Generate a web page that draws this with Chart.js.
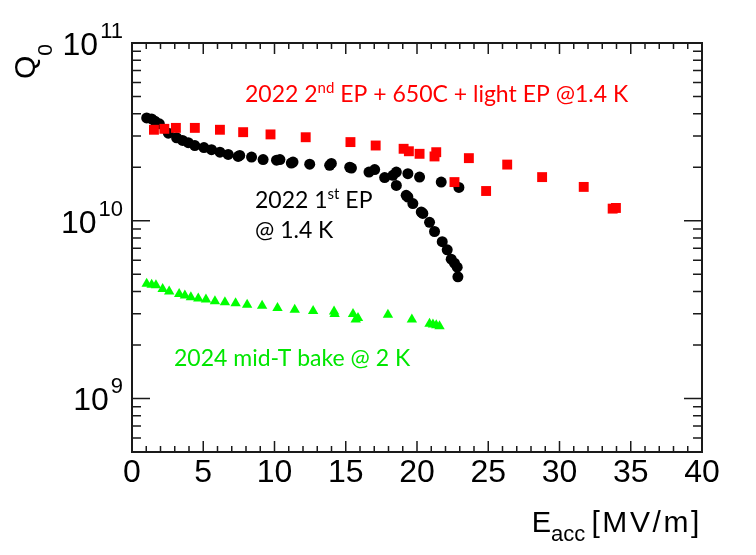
<!DOCTYPE html>
<html>
<head>
<meta charset="utf-8">
<script src="https://cdn.jsdelivr.net/npm/chart.js@4/dist/chart.umd.min.js"></script>
<style>
  html, body { margin: 0; padding: 0; background: #fff; }
</style>
</head>
<body>
<canvas id="chart" width="756" height="555"></canvas>
<script>
// 2022 1st EP @ 1.4 K (black circles)
let ep1X = [1.03, 1.38, 1.61, 1.92, 2.55, 3.13, 3.55, 3.95, 4.41, 5.05, 5.58, 6.17, 6.75, 7.45, 7.56,
  8.39, 9.2, 10.14, 10.38, 11.18, 11.3, 12.47, 13.87, 13.99, 15.28, 15.4, 16.63, 17.03, 17.73, 18.31,
  18.55, 19.36, 20.18, 21.7, 22.94,
  18.55, 19.24, 19.36, 19.71, 20.3, 20.41, 20.88, 21.23, 21.77, 22.12, 22.4, 22.63, 22.82, 22.87];
let ep1Q = [3.79e10, 3.74e10, 3.63e10, 3.51e10, 3.11e10, 2.93e10, 2.83e10, 2.75e10, 2.65e10, 2.58e10,
  2.51e10, 2.43e10, 2.36e10, 2.30e10, 2.33e10, 2.28e10, 2.21e10, 2.19e10, 2.21e10, 2.11e10, 2.14e10,
  2.08e10, 2.05e10, 2.10e10, 2.00e10, 1.98e10, 1.88e10, 1.94e10, 1.75e10, 1.80e10, 1.88e10, 1.84e10,
  1.76e10, 1.65e10, 1.54e10,
  1.58e10, 1.39e10, 1.36e10, 1.25e10, 1.12e10, 1.10e10, 9.8e9, 8.7e9, 7.63e9, 6.86e9, 6.08e9, 5.77e9,
  5.48e9, 4.84e9];

// 2022 2nd EP + 650C + light EP @1.4 K (red squares)
let ep2X = [1.54, 2.27, 3.08, 4.41, 6.17, 7.8, 9.72, 12.19, 15.33, 17.1, 19.06, 19.43, 20.18, 21.23,
  21.35, 22.63, 23.64, 24.85, 26.33, 28.78, 31.7, 33.73, 33.96];
let ep2Q = [3.25e10, 3.29e10, 3.33e10, 3.33e10, 3.25e10, 3.15e10, 3.06e10, 2.95e10, 2.77e10, 2.65e10,
  2.54e10, 2.46e10, 2.38e10, 2.30e10, 2.43e10, 1.65e10, 2.25e10, 1.47e10, 2.07e10, 1.76e10, 1.55e10,
  1.17e10, 1.18e10];

// 2024 mid-T bake @ 2 K (green triangles)
let midTX = [1.03, 1.38, 1.68, 2.15, 2.61, 3.31, 3.71, 4.13, 4.65, 5.19, 5.82, 6.52, 7.27, 8.08, 9.13,
  10.21, 11.42, 12.71, 14.18, 14.22, 15.51, 15.7, 15.86, 17.96, 19.64, 20.88, 21.12, 21.35, 21.58];
let midTQ = [4.42e9, 4.37e9, 4.33e9, 4.13e9, 4.0e9, 3.87e9, 3.80e9, 3.71e9, 3.65e9, 3.6e9, 3.52e9,
  3.48e9, 3.43e9, 3.37e9, 3.33e9, 3.23e9, 3.16e9, 3.11e9, 3.09e9, 2.99e9, 2.99e9, 2.78e9, 2.84e9,
  2.96e9, 2.78e9, 2.63e9, 2.61e9, 2.58e9, 2.55e9];

let xTicks = [0, 5, 10, 15, 20, 25, 30, 35, 40];
let yDecades = [9, 10, 11];

const axisFont = '"Liberation Sans", Arial, sans-serif';
const noteFont = 'Lato, "Noto Sans", sans-serif';

function toPoints(xs, ys) {
  return xs.map((x, i) => ({ x: x, y: ys[i] }));
}

// draw a run of text pieces; each piece may be raised (sup) or lowered (sub)
function drawRich(ctx, parts, x, y, family, size, color) {
  ctx.fillStyle = color;
  ctx.textAlign = 'left';
  ctx.textBaseline = 'alphabetic';
  let cx = x;
  parts.forEach(p => {
    ctx.font = (p.size || size) + 'px ' + family;
    ctx.letterSpacing = p.ls || '0px';
    ctx.fillText(p.t, cx, y + (p.dy || 0));
    cx += ctx.measureText(p.t).width;
  });
  ctx.letterSpacing = '0px';
  return cx - x;
}

function richWidth(ctx, parts, family, size) {
  let w = 0;
  parts.forEach(p => {
    ctx.font = (p.size || size) + 'px ' + family;
    ctx.letterSpacing = p.ls || '0px';
    w += ctx.measureText(p.t).width;
  });
  ctx.letterSpacing = '0px';
  return w;
}

const framePlugin = {
  id: 'frame',
  afterDatasetsDraw(chart) {
    const { ctx, chartArea: a, scales: { x, y } } = chart;
    ctx.save();
    ctx.strokeStyle = '#1a1a1a';
    ctx.lineWidth = 1.5;
    ctx.beginPath();
    // x ticks, bottom and top
    for (let v = 0; v <= 40; v++) {
      let px = x.getPixelForValue(v);
      let len = v % 5 === 0 ? 11 : 6;
      ctx.moveTo(px, a.bottom); ctx.lineTo(px, a.bottom - len);
      ctx.moveTo(px, a.top); ctx.lineTo(px, a.top + len);
    }
    // log y ticks, left and right
    for (let e = 8; e <= 11; e++) {
      for (let m = 1; m <= 9; m++) {
        let v = m * Math.pow(10, e);
        if (v < y.min || v > y.max) continue;
        let py = y.getPixelForValue(v);
        let len = m === 1 ? 18 : 9;
        ctx.moveTo(a.left, py); ctx.lineTo(a.left + len, py);
        ctx.moveTo(a.right, py); ctx.lineTo(a.right - len, py);
      }
    }
    ctx.stroke();
    ctx.lineWidth = 2;
    ctx.strokeRect(a.left, a.top, a.right - a.left, a.bottom - a.top);

    // y tick labels 10^n
    yDecades.forEach(e => {
      let py = y.getPixelForValue(Math.pow(10, e));
      let parts = [{ t: '10', size: 32 }, { t: String(e), size: 22 }];
      let w = richWidth(ctx, parts, axisFont) + 2;
      ctx.font = '32px ' + axisFont;
      let wb = ctx.measureText('10').width;
      drawRich(ctx, [{ t: '10', size: 32 }], 123 - w, py + 12, axisFont, 32, '#000');
      drawRich(ctx, [{ t: String(e), size: 22 }], 123 - w + wb + 2, py - 5, axisFont, 22, '#000');
    });

    // y axis title Q0, rotated, ending at the top of the frame
    ctx.save();
    ctx.translate(35, a.top);
    ctx.rotate(-Math.PI / 2);
    let qParts = [{ t: 'Q', size: 30 }, { t: '0', size: 21, dy: 17 }];
    let qw = richWidth(ctx, qParts, axisFont);
    drawRich(ctx, qParts, -qw - 1, 0, axisFont, 30, '#000');
    ctx.restore();

    // x axis title
    let xParts = [{ t: 'E', size: 29 }, { t: 'acc', size: 22, dy: 9 }, { t: ' ', size: 22 },
      { t: '[MV/m]', size: 30, ls: '2.6px' }];
    let xw = richWidth(ctx, xParts, axisFont);
    drawRich(ctx, xParts, 702 - xw, 532, axisFont, 29, '#000');

    // curve notes
    drawRich(ctx, [{ t: '2022 2' }, { t: 'nd', size: 15, dy: -9 }, { t: ' EP + 650C + light EP @1.4 K' }],
      245, 102, noteFont, 23, '#ff0000');
    drawRich(ctx, [{ t: '2022 1' }, { t: 'st', size: 15, dy: -9 }, { t: ' EP' }],
      255, 208, noteFont, 23, '#000');
    drawRich(ctx, [{ t: '@ 1.4 K' }], 255, 238, noteFont, 23, '#000');
    drawRich(ctx, [{ t: '2024 mid-T bake @ 2 K' }], 174, 366, noteFont, 23, '#00e600');
    ctx.restore();
  }
};

const ctx = document.getElementById('chart').getContext('2d');
const chart = new Chart(ctx, {
  type: 'scatter',
  data: {
    datasets: [
      {
        label: '2024 mid-T bake @ 2 K',
        data: toPoints(midTX, midTQ),
        pointStyle: 'triangle',
        pointRadius: 6,
        backgroundColor: '#00ff00',
        borderColor: '#00ff00',
        borderWidth: 0
      },
      {
        label: '2022 2nd EP + 650C + light EP @1.4 K',
        data: toPoints(ep2X, ep2Q),
        pointStyle: 'rect',
        pointRadius: 7,
        backgroundColor: '#ff0000',
        borderColor: '#ff0000',
        borderWidth: 0
      },
      {
        label: '2022 1st EP @ 1.4 K',
        data: toPoints(ep1X, ep1Q),
        pointStyle: 'circle',
        pointRadius: 5.5,
        backgroundColor: '#000',
        borderColor: '#000',
        borderWidth: 0
      }
    ]
  },
  options: {
    responsive: false,
    animation: false,
    devicePixelRatio: 1,
    layout: { padding: { left: 132, right: 54, top: 43, bottom: 0 } },
    plugins: { legend: { display: false }, tooltip: { enabled: false } },
    scales: {
      x: {
        type: 'linear',
        min: 0,
        max: 40,
        grid: { display: false, drawTicks: false },
        border: { display: false },
        afterBuildTicks(s) { s.ticks = xTicks.map(v => ({ value: v })); },
        afterFit(s) { s.height = 103; },
        ticks: {
          color: '#000',
          padding: 2,
          maxRotation: 0,
          autoSkip: false,
          font: { family: axisFont, size: 32 }
        }
      },
      y: {
        type: 'logarithmic',
        min: 5e8,
        max: 1e11,
        display: false
      }
    }
  },
  plugins: [framePlugin]
});
</script>
</body>
</html>
